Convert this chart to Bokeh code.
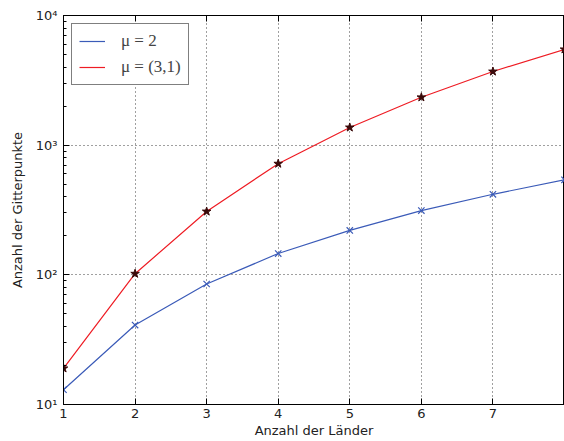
from bokeh.plotting import figure
from bokeh.models import FixedTicker, LogTicker, LinearAxis, Legend, LegendItem
from bokeh.embed import file_html
from bokeh.resources import INLINE

laender = [1, 2, 3, 4, 5, 6, 7, 8]
mu2 = [13, 41, 85, 146, 220, 313, 418, 540]
mu31 = [19, 102, 308, 720, 1370, 2340, 3700, 5480]
x_ticks = [1, 2, 3, 4, 5, 6, 7, 8]
x_tick_labels = {8: ""}
y_ticks = [10, 100, 1000, 10000]
y_tick_labels = {10: "10¹", 100: "10²", 1000: "10³", 10000: "10⁴"}

p = figure(width=564, height=441, output_backend="svg", toolbar_location=None,
           y_axis_type="log", x_range=(1, 8), y_range=(10, 10000),
           min_border_left=63, min_border_right=0, min_border_top=15, min_border_bottom=37)
p.background_fill_color = "white"
p.border_fill_color = "white"
p.outline_line_color = "black"
p.outline_line_width = 1

blue = "#3b5bb8"
red = "#ee1c24"

l1 = p.line(laender, mu2, line_color=blue, line_width=1.2)
m1 = p.scatter(laender, mu2, marker="x", size=9, line_color=blue, line_width=1.2)
l2 = p.line(laender, mu31, line_color=red, line_width=1.2)
m2 = p.scatter(laender, mu31, marker="star", size=9, fill_color="#3a0a0a", line_color="#3a0a0a")

# axes
xa = p.xaxis[0]
xa.ticker = FixedTicker(ticks=x_ticks)
xa.major_label_overrides = x_tick_labels
xa.axis_label = "Anzahl der Länder"
ya = p.yaxis[0]
ya.ticker = LogTicker(num_minor_ticks=10)
ya.major_label_overrides = y_tick_labels
ya.axis_label = "Anzahl der Gitterpunkte"
for ax in (xa, ya):
    ax.major_tick_in = 6
    ax.major_tick_out = 0
    ax.minor_tick_in = 3
    ax.minor_tick_out = 0
    ax.axis_line_color = "black"
    ax.major_tick_line_color = "black"
    ax.minor_tick_line_color = "black"
    ax.major_label_text_font = "DejaVu Sans"
    ax.major_label_text_font_size = "13px"
    ax.major_label_text_color = "#222222"
    ax.axis_label_text_font = "DejaVu Sans"
    ax.axis_label_text_font_size = "13px"
    ax.axis_label_text_font_style = "normal"
    ax.axis_label_text_color = "#222222"
xa.minor_tick_line_color = None
xa.major_label_standoff = 4
xa.axis_label_standoff = 2
ya.major_label_standoff = 6
ya.axis_label_standoff = 8

top = LinearAxis(ticker=FixedTicker(ticks=x_ticks), major_tick_in=6, major_tick_out=0,
                 major_label_overrides={t: "" for t in x_ticks}, minor_tick_line_color=None,
                 axis_line_color="black", major_label_standoff=0)
p.add_layout(top, "above")

# grid
for g in (p.xgrid[0], p.ygrid[0]):
    g.grid_line_color = "black"
    g.grid_line_dash = "1 3"
    g.grid_line_alpha = 0.75
    g.grid_line_width = 1
p.xgrid[0].ticker = FixedTicker(ticks=x_ticks)
p.ygrid[0].ticker = FixedTicker(ticks=y_ticks)

legend = Legend(items=[LegendItem(label="μ = 2", renderers=[l1]),
                       LegendItem(label="μ = (3,1)", renderers=[l2])],
                location="top_left")
legend.margin = 8
legend.padding = 7
legend.spacing = 6
legend.glyph_width = 26
legend.label_standoff = 16
legend.label_text_font = "Liberation Serif"
legend.label_text_font_size = "17px"
legend.border_line_color = "black"
legend.border_line_width = 1
legend.background_fill_alpha = 1
p.add_layout(legend)

open("out.html", "w").write(file_html(p, INLINE))
